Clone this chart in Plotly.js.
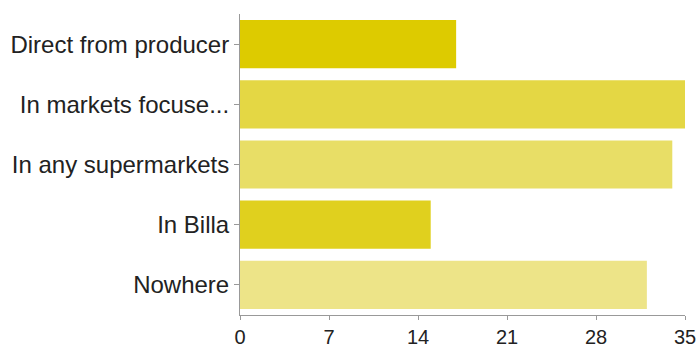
<!DOCTYPE html>
<html>
<head>
<meta charset="utf-8">
<script src="https://cdn.plot.ly/plotly-3.0.1.min.js"></script>
<style>html,body{margin:0;padding:0;background:#fff;}#chart{width:699px;height:347px;}</style>
</head>
<body>
<div id="chart"></div>
<script>
const categories = ["Direct from producer", "In markets focuse...", "In any supermarkets", "In Billa", "Nowhere"];
const values = [17, 35, 34, 15, 32];
const barColors = ["#DDCB00", "#E4D744", "#E8DE66", "#E0D01E", "#EDE488"];
const xTicks = [0, 7, 14, 21, 28, 35];

const trace = {
  type: "bar",
  orientation: "h",
  y: categories,
  x: values,
  marker: {color: barColors, line: {width: 0}},
  hoverinfo: "none"
};

const fontFamily = "Liberation Sans, Arial, Helvetica, sans-serif";
const layout = {
  width: 699,
  height: 347,
  margin: {l: 240, r: 14, t: 14, b: 32, pad: 0},
  paper_bgcolor: "#ffffff",
  plot_bgcolor: "#ffffff",
  showlegend: false,
  bargap: 0.2,
  font: {family: fontFamily, size: 20, color: "#222222"},
  xaxis: {
    range: [0, 35],
    tickvals: xTicks,
    ticktext: xTicks.map(String),
    showgrid: false,
    zeroline: false,
    showline: true,
    linecolor: "#999999",
    linewidth: 1,
    ticks: "outside",
    ticklen: 4,
    tickcolor: "#999999",
    tickfont: {family: fontFamily, size: 20, color: "#222222"}
  },
  yaxis: {
    type: "category",
    categoryorder: "array",
    categoryarray: categories,
    autorange: "reversed",
    showgrid: false,
    zeroline: false,
    showline: true,
    linecolor: "#999999",
    linewidth: 1,
    ticks: "outside",
    ticklen: 5,
    tickcolor: "#999999",
    tickfont: {family: fontFamily, size: 24, color: "#222222"}
  }
};

Plotly.newPlot("chart", [trace], layout, {displayModeBar: false, staticPlot: true});
</script>
</body>
</html>
